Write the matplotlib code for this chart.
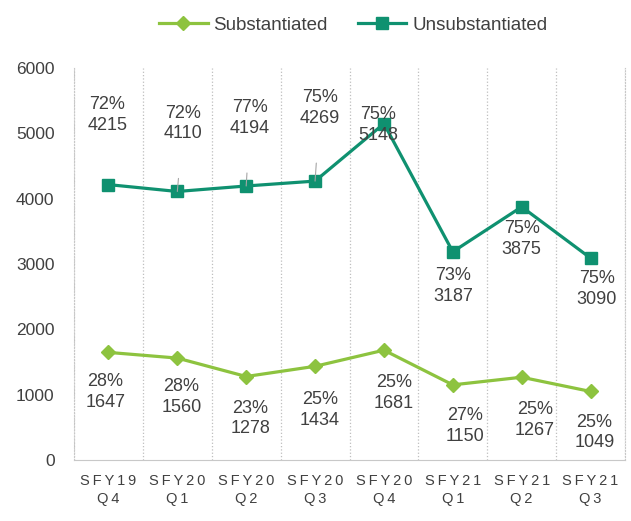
import numpy as np
import matplotlib
matplotlib.use('Agg')
from matplotlib import pyplot as plt

plt.rcParams['font.family'] = ['Liberation Sans', 'DejaVu Sans']

quarters = ['SFY19\nQ4', 'SFY20\nQ1', 'SFY20\nQ2', 'SFY20\nQ3', 'SFY20\nQ4',
            'SFY21\nQ1', 'SFY21\nQ2', 'SFY21\nQ3']
substantiated = [1647, 1560, 1278, 1434, 1681, 1150, 1267, 1049]
sub_pct = ['28%', '28%', '23%', '25%', '25%', '27%', '25%', '25%']
unsubstantiated = [4215, 4110, 4194, 4269, 5148, 3187, 3875, 3090]
unsub_pct = ['72%', '72%', '77%', '75%', '75%', '73%', '75%', '75%']

green = '#8DC33F'
teal = '#0F9170'
txt = '#404040'

# label offsets in pixels (dx, dy), hand placed like the original
unsub_off = [(-1, 70), (6, 68), (4, 68), (5, 73), (-6, -1), (0, -34), (0, -32), (6, -31)]
sub_off = [(-3, -40), (4, -39), (4, -42), (5, -44), (10, -43), (12, -41), (13, -43), (4, -41)]
leaders = [1, 2, 3]

fig = plt.figure(figsize=(6.31, 5.21), dpi=100)
ax = fig.add_axes([74 / 631, 1 - 460 / 521, (625 - 74) / 631, (460 - 68) / 521])

x = np.arange(len(quarters))
ax.plot(x, substantiated, color=green, lw=2.3, marker='D', ms=7.5, label='Substantiated')
ax.plot(x, unsubstantiated, color=teal, lw=2.3, marker='s', ms=9, label='Unsubstantiated')

for i in range(len(x)):
    dx, dy = unsub_off[i]
    ap = None
    if i in leaders:
        ap = dict(arrowstyle='-', color='#A6A6A6', lw=0.8, shrinkA=24, shrinkB=0)
    ax.annotate(unsub_pct[i] + '\n' + str(unsubstantiated[i]), (x[i], unsubstantiated[i]),
                xytext=(dx, dy), textcoords='offset pixels', ha='center', va='center',
                fontsize=13, color=txt, linespacing=1.3, arrowprops=ap)
    dx, dy = sub_off[i]
    ax.annotate(sub_pct[i] + '\n' + str(substantiated[i]), (x[i], substantiated[i]),
                xytext=(dx, dy), textcoords='offset pixels', ha='center', va='center',
                fontsize=13, color=txt, linespacing=1.3)

ax.set_xlim(-0.5, len(x) - 0.5)
ax.set_ylim(0, 6000)
ax.set_yticks(range(0, 6001, 1000))
ax.set_xticks(x)
ax.set_xticklabels(['\u2009'.join(q.split('\n')[0]) + '\n' + '\u2009'.join(q.split('\n')[1])
                    for q in quarters], fontsize=10.5, color=txt, linespacing=1.4)
ax.set_xticks(np.arange(-0.5, len(x), 1), minor=True)
ax.tick_params(axis='x', which='both', length=0, pad=10)
ax.tick_params(axis='y', length=0, pad=14, labelsize=12.5, labelcolor=txt)
ax.grid(axis='x', which='minor', linestyle=':', color='#BFBFBF', lw=0.9)

ax.spines['top'].set_visible(False)
for s in ['left', 'right']:
    ax.spines[s].set_color('#C8C8C8')
    ax.spines[s].set_linestyle(':')
ax.spines['bottom'].set_color('#C8C8C8')

fig.legend(loc='center', bbox_to_anchor=(353 / 631, 1 - 25 / 521), ncol=2, frameon=False,
           fontsize=13.5, handlelength=2.6, columnspacing=1.6, handletextpad=0.3,
           labelcolor=txt)

plt.savefig('out.png', dpi=100)
